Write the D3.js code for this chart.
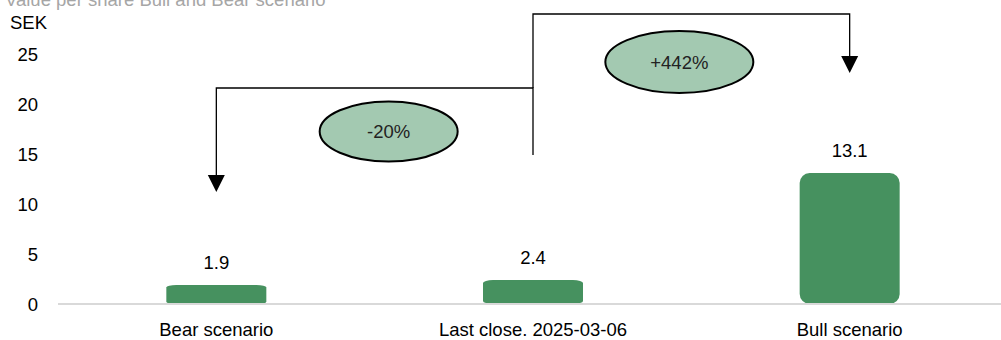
<!DOCTYPE html>
<html>
<head>
<meta charset="utf-8">
<script src="https://cdn.jsdelivr.net/npm/d3@7"></script>
<style>
  body { margin: 0; background: #fff; }
  text { font-family: "Liberation Sans", Arial, sans-serif; }
</style>
</head>
<body>
<div id="chart"></div>
<script>
// data
var categories = ["Bear scenario", "Last close. 2025-03-06", "Bull scenario"];
var values = [1.9, 2.4, 13.1];
var yTicks = [0, 5, 10, 15, 20, 25];
var changeLabels = ["-20%", "+442%"];

var width = 1001, height = 340;
var fs = "18.5px";

var svg = d3.select("#chart").append("svg")
    .attr("width", width)
    .attr("height", height);

var x = d3.scaleBand()
    .domain(categories)
    .range([58, 1008]);

var y = d3.scaleLinear()
    .domain([0, 25])
    .range([304, 54]);

var cx = d => x(d) + x.bandwidth() / 2;
var barW = 100;

// title (cut off at top, as in the original)
svg.append("text")
    .attr("x", 5)
    .attr("y", 6)
    .attr("fill", "#a6a6a6")
    .style("font-size", "18.5px")
    .text("Value per share Bull and Bear scenario");

svg.append("text")
    .attr("x", 10)
    .attr("y", 29)
    .attr("fill", "#000")
    .style("font-size", fs)
    .text("SEK");

// y tick labels
svg.selectAll(".ytick")
    .data(yTicks)
    .enter()
    .append("text")
    .attr("class", "ytick")
    .attr("x", 38)
    .attr("y", d => y(d))
    .attr("dy", "0.36em")
    .attr("text-anchor", "end")
    .style("font-size", fs)
    .text(d => d);

// bars
svg.selectAll(".bar")
    .data(values)
    .enter()
    .append("rect")
    .attr("class", "bar")
    .attr("x", (d, i) => cx(categories[i]) - barW / 2)
    .attr("y", d => y(d))
    .attr("width", barW)
    .attr("height", d => y(0) - y(d))
    .attr("rx", 10)
    .attr("ry", d => Math.min(10, (y(0) - y(d)) / 8))
    .attr("fill", "#46915f");

// baseline
svg.append("line")
    .attr("x1", 58).attr("x2", width)
    .attr("y1", y(0)).attr("y2", y(0))
    .attr("stroke", "#d9d9d9")
    .attr("stroke-width", 2);

// value labels
svg.selectAll(".val")
    .data(values)
    .enter()
    .append("text")
    .attr("class", "val")
    .attr("x", (d, i) => cx(categories[i]))
    .attr("y", d => y(d) - 16)
    .attr("text-anchor", "middle")
    .style("font-size", fs)
    .text(d => d.toFixed(1));

// category labels
svg.selectAll(".cat")
    .data(categories)
    .enter()
    .append("text")
    .attr("class", "cat")
    .attr("x", d => cx(d))
    .attr("y", 336)
    .attr("text-anchor", "middle")
    .style("font-size", fs)
    .text(d => d);

// connector arrows
var xBear = cx(categories[0]), xLast = cx(categories[1]), xBull = cx(categories[2]);

var conn = svg.append("g")
    .attr("fill", "none")
    .attr("stroke", "#000")
    .attr("stroke-width", 1.3);

conn.append("path")
    .attr("d", `M${xLast},${y(14.9)} V${y(21.6)} H${xBear} V${y(12.5)}`);
conn.append("path")
    .attr("d", `M${xLast},${y(21.6)} V${y(29)} H${xBull} V${y(24.4)}`);

function arrowHead(xc, tipY) {
    svg.append("path")
        .attr("d", `M${xc - 8.5},${tipY - 17} L${xc + 8.5},${tipY - 17} L${xc},${tipY} Z`)
        .attr("fill", "#000");
}
arrowHead(xBear, y(11.2));
arrowHead(xBull, y(23.1));

// change ellipses
var ellipses = [
    { label: changeLabels[0], x: (xBear + xLast) / 2 + 14, y: y(17.25), rx: 69, ry: 30 },
    { label: changeLabels[1], x: (xLast + xBull) / 2 - 12, y: y(24.2), rx: 74, ry: 31 }
];

var eg = svg.selectAll(".ell")
    .data(ellipses)
    .enter()
    .append("g")
    .attr("class", "ell");

eg.append("ellipse")
    .attr("cx", d => d.x)
    .attr("cy", d => d.y)
    .attr("rx", d => d.rx)
    .attr("ry", d => d.ry)
    .attr("fill", "#a3c9b1")
    .attr("stroke", "#000")
    .attr("stroke-width", 2);

eg.append("text")
    .attr("x", d => d.x)
    .attr("y", d => d.y)
    .attr("dy", "0.36em")
    .attr("text-anchor", "middle")
    .attr("fill", "#222")
    .style("font-size", fs)
    .text(d => d.label);
</script>
</body>
</html>
